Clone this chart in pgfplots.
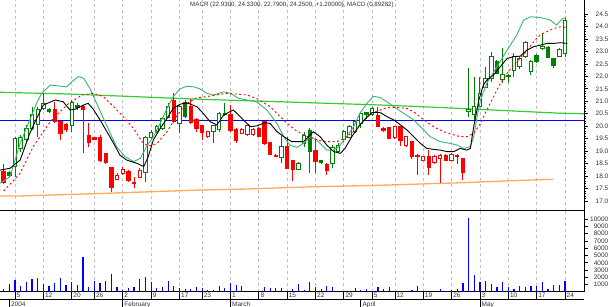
\documentclass[border=0pt]{standalone}
\usepackage{pgfplots}
\usepackage{pgfplotstable}
\pgfplotsset{compat=1.18}
\usepackage{fontspec}
\setmainfont{Liberation Sans}
\definecolor{cg}{RGB}{0,128,0}
\definecolor{cr}{RGB}{255,0,0}
\definecolor{tealc}{RGB}{60,179,113}
\definecolor{lgc}{RGB}{50,205,50}
\definecolor{orc}{RGB}{255,170,90}
\definecolor{gridc}{RGB}{192,192,192}
\definecolor{txt}{RGB}{50,50,50}

% green hollow candles: i open high low close
\pgfplotstableread{
i o h l c
0 18.38 19.58 17.97 19.49
1 19.10 19.65 18.98 19.55
2 19.45 20.05 19.31 19.91
3 19.91 20.78 19.85 20.45
4 20.05 20.78 19.58 20.68
5 20.71 21.32 20.65 20.92
10 20.01 21.05 19.78 20.94
23 18.13 19.61 17.77 19.55
24 19.54 19.85 19.45 19.74
25 19.78 20.05 19.71 19.98
26 19.91 20.38 19.85 20.31
27 20.35 20.92 20.31 20.78
29 20.11 20.85 19.74 20.78
35 19.80 20.05 19.34 20.01
36 19.87 20.58 19.78 20.51
47 18.75 19.61 18.51 19.20
50 18.27 18.58 18.24 18.51
51 19.31 19.78 19.15 19.61
56 18.51 19.24 18.31 19.15
57 18.98 19.31 18.94 19.24
58 19.45 19.85 19.38 19.78
59 19.55 20.05 19.51 19.98
60 19.78 20.25 19.71 20.18
61 20.11 20.58 19.91 20.51
63 20.48 20.75 20.42 20.71
80 20.58 22.32 20.38 20.67
81 20.45 21.98 20.25 20.78
82 20.78 21.96 20.75 21.32
83 21.56 22.39 21.52 21.92
84 21.92 22.99 21.78 22.81
86 21.89 23.12 21.72 22.09
88 22.25 22.92 21.99 22.79
89 22.39 22.80 22.30 22.72
90 22.81 23.40 22.75 23.35
91 22.19 22.65 22.05 22.61
93 23.12 23.72 23.05 23.21
96 22.81 23.12 22.78 23.08
97 22.93 24.33 22.79 24.25
}\GH
% green filled candles
\pgfplotstableread{
i o h l c
-1 18.15 18.20 17.95 18.04
6 20.68 20.71 20.54 20.60
11 20.85 20.94 20.65 20.74
30 20.94 21.05 20.31 20.38
37 20.51 20.92 20.41 20.45
52 19.82 19.91 18.11 18.98
54 18.62 18.66 18.50 18.56
62 20.54 20.58 20.30 20.47
85 22.59 22.65 22.08 22.12
87 22.04 22.10 21.72 21.99
92 22.85 22.90 22.55 22.59
94 23.15 23.20 22.72 22.76
95 22.72 22.75 22.32 22.45
}\GF
% red filled candles
\pgfplotstableread{
i o h l c
-2 18.17 18.48 17.68 17.73
7 20.68 20.98 20.14 20.18
8 20.17 20.22 19.45 19.69
9 20.05 20.11 19.78 19.85
12 20.78 20.85 18.91 20.65
13 19.61 20.11 19.18 19.34
14 19.55 19.58 19.45 19.47
15 19.54 19.65 18.58 18.62
16 18.91 18.94 18.48 18.54
17 18.34 18.38 17.37 17.55
20 18.17 18.24 17.77 17.81
21 17.75 17.97 17.51 17.71
28 21.05 21.32 20.11 20.18
31 20.78 21.08 20.09 20.14
32 20.27 20.31 19.78 19.91
33 20.01 20.05 19.45 19.74
38 20.45 20.85 19.78 19.82
39 19.85 19.91 19.31 19.42
43 19.91 19.98 19.55 19.58
44 20.18 20.22 19.24 19.31
45 19.34 19.38 18.84 18.88
46 18.84 18.88 18.75 18.78
48 19.20 19.55 18.27 18.31
49 18.62 18.64 17.81 18.27
53 19.02 19.45 18.13 18.58
55 18.48 18.54 18.04 18.22
64 20.41 20.78 19.95 19.98
65 19.91 19.95 19.78 19.82
66 19.94 19.98 19.48 19.51
68 19.98 20.00 19.22 19.42
70 19.38 19.42 18.67 18.78
71 18.84 18.90 18.05 18.78
73 18.80 19.04 18.04 18.33
76 18.84 18.88 18.60 18.64
78 18.84 18.88 18.50 18.78
79 18.70 18.74 17.84 18.16
}\RF
% red hollow candles
\pgfplotstableread{
i o h l c
18 17.88 18.11 17.84 18.04
19 18.11 18.35 18.04 18.28
22 17.95 18.31 17.91 18.24
34 19.58 19.82 19.54 19.78
40 19.71 19.91 19.69 19.87
41 19.65 20.05 19.61 20.01
42 19.65 19.91 19.61 19.85
67 19.55 20.02 19.50 19.98
69 19.22 19.62 19.18 19.58
72 18.64 18.82 18.60 18.78
74 18.54 18.84 18.50 18.80
75 18.71 18.88 17.73 18.84
77 18.64 18.92 18.60 18.88
}\RH
% volume
\pgfplotstableread{
i v
-2 410
-1 1100
0 1640
1 820
2 1370
3 1780
4 1920
5 1100
6 820
7 1230
8 1920
9 960
10 1370
11 960
12 4800
13 690
14 1510
15 1230
16 1510
17 2470
18 690
19 270
20 550
21 690
22 1780
23 2060
24 1370
25 550
26 690
27 1510
28 820
29 550
30 410
31 410
32 690
33 550
34 270
35 270
36 820
37 550
38 1230
39 960
40 820
41 0
42 140
43 0
44 690
45 550
46 550
47 550
48 0
49 410
50 1100
51 270
52 1370
53 690
54 410
55 820
56 690
57 0
58 140
59 140
60 550
61 270
62 410
63 140
64 690
65 410
66 690
67 140
68 0
69 0
70 270
71 820
72 0
73 0
74 0
75 410
76 140
77 270
78 410
79 1230
80 10140
81 2330
82 1370
83 1510
84 1100
85 690
86 1370
87 690
88 410
89 820
90 690
91 820
92 820
93 1370
94 410
95 960
96 960
97 1510
}\VOL

\pgfplotsset{
  base/.style={scale only axis, width=584pt, xmin=-2.65, xmax=100.35},
  wk/.style={xtick={0,5,10,14,19,24,29,33,38,43,48,53,58,63,67,72,77,82,87,92,97}},
  lab/.style={font=\fontsize{6.5}{7}\selectfont, text=txt},
  wick/.style={draw=none, mark=none, error bars/.cd, y dir=plus, y explicit, error mark=none,
     error bar style={line width=1pt, draw=#1, solid}},
  body/.style={draw=none, mark=none, error bars/.cd, y dir=plus, y explicit, error mark=none,
     error bar style={line width=4.4pt, draw=#1, solid}},
  inner/.style={draw=none, mark=none, error bars/.cd, y dir=plus, y explicit, error mark=none,
     error bar style={line width=2.4pt, draw=white, solid}},
}

\begin{document}
\begin{tikzpicture}
\path[use as bounding box] (0pt,0pt) rectangle (610pt,307pt);

% ---------------- price panel
\begin{axis}[base, wk, at={(0pt,96pt)}, anchor=south west, height=211pt,
  ymin=16.598, ymax=25.062,
  axis x line*=bottom, axis y line*=right, axis line style={-, line width=1pt, black},
  xticklabels={}, xmajorgrids, x tick style={draw=none},
  major grid style={gridc, dash pattern=on 3pt off 3pt, line width=0.8pt},
  ytick={17,17.5,18,18.5,19,19.5,20,20.5,21,21.5,22,22.5,23,23.5,24,24.5},
  yticklabels={17.0,17.5,18.0,18.5,19.0,19.5,20.0,20.5,21.0,21.5,22.0,22.5,23.0,23.5,24.0,24.5},
  minor y tick num=4, tick align=outside, major tick length=4pt, minor tick length=2pt,
  y tick style={black, line width=0.6pt},
  yticklabel pos=right,
  yticklabel style={lab, anchor=east, xshift=20.5pt, inner sep=0pt},
  title={MACR (22.9300, 24.3300, 22.7900, 24.2500, +1.20000), MACD (0.89282)},
  title style={at={(0.5,1)}, anchor=north, yshift=-7.5pt, inner sep=0pt,
     font=\fontsize{6.2}{7}\selectfont, text=txt},
]
% horizontal reference lines
\addplot[blue, line width=1.3pt] coordinates {(-2.65,20.24) (100.35,20.24)};
\addplot[lgc, line width=1.2pt] coordinates {(-2.65,21.36) (9.7,21.29) (32.6,21.08) (46.7,20.98) (64.4,20.85) (75,20.75) (84.3,20.65) (96.1,20.52) (100.35,20.50)};
\addplot[orc, line width=1.3pt] coordinates {(-2.65,17.20) (0.9,17.20) (15,17.30) (32.6,17.44) (40.9,17.48) (52.6,17.57) (64.4,17.63) (78.5,17.73) (87.3,17.81) (94.9,17.87)};

% wicks
\addplot[wick=cg] table[x=i, y=l, y error expr=\thisrow{h}-\thisrow{l}] {\GH};
\addplot[wick=cg] table[x=i, y=l, y error expr=\thisrow{h}-\thisrow{l}] {\GF};
\addplot[wick=cr] table[x=i, y=l, y error expr=\thisrow{h}-\thisrow{l}] {\RF};
\addplot[wick=cr] table[x=i, y=l, y error expr=\thisrow{h}-\thisrow{l}] {\RH};
% bodies
\addplot[body=cg] table[x=i, y expr={min(\thisrow{o},\thisrow{c})-0.02}, y error expr={abs(\thisrow{c}-\thisrow{o})+0.04}] {\GH};
\addplot[body=cg] table[x=i, y expr={min(\thisrow{o},\thisrow{c})-0.02}, y error expr={abs(\thisrow{c}-\thisrow{o})+0.04}] {\GF};
\addplot[body=cr] table[x=i, y expr={min(\thisrow{o},\thisrow{c})-0.02}, y error expr={abs(\thisrow{c}-\thisrow{o})+0.04}] {\RF};
\addplot[body=cr] table[x=i, y expr={min(\thisrow{o},\thisrow{c})-0.02}, y error expr={abs(\thisrow{c}-\thisrow{o})+0.04}] {\RH};
\addplot[inner] table[x=i, y expr={min(\thisrow{o},\thisrow{c})+0.02}, y error expr={max(abs(\thisrow{c}-\thisrow{o})-0.04,0)}] {\GH};
\addplot[inner] table[x=i, y expr={min(\thisrow{o},\thisrow{c})+0.02}, y error expr={max(abs(\thisrow{c}-\thisrow{o})-0.04,0)}] {\RH};

% teal band line
\addplot[tealc, line width=0.9pt] coordinates {
(-2.65,17.71) (-0.9,17.97) (0.9,19.31) (2.6,20.25) (3.8,20.92) (4.7,21.32) (6.2,21.65) (7.9,21.61)
(9.1,21.58) (10.0,21.78) (11.2,21.99) (12.1,21.92) (13.2,21.52) (14.4,20.92) (15.6,20.31) (16.8,19.71)
(17.9,19.18) (19.4,18.78) (20.9,18.58) (22.1,18.71) (23.2,19.18) (24.4,19.58) (25.6,20.11) (26.8,20.71)
(27.9,21.18) (29.1,21.50) (30.3,21.60) (31.5,21.58) (32.6,21.50) (33.8,21.32) (35.0,21.25) (36.8,21.38)
(38.0,21.32) (39.4,21.12) (40.9,21.05) (42.6,20.98) (44.4,20.65) (46.2,20.11) (47.4,19.58) (48.5,19.24)
(49.7,19.15) (50.9,19.31) (52.1,19.58) (53.2,19.45) (55.0,19.04) (56.2,19.04) (57.1,19.18) (58.5,19.58)
(59.7,19.98) (60.9,20.55) (62.1,20.92) (63.2,21.20) (64.4,21.15) (65.6,20.98) (66.8,20.78) (68.6,20.51)
(70.3,20.25) (72.1,19.85) (73.2,19.58) (75.0,19.38) (76.8,19.31) (78.0,19.24) (79.1,19.11) (80.3,19.18)
(80.9,19.58) (81.5,20.38) (82.1,21.05) (83.2,21.72) (85.0,22.39) (86.8,23.05) (88.5,23.66) (89.7,24.26)
(90.9,24.39) (92.6,24.36) (94.4,24.26) (95.5,24.06) (96.5,24.30) (97,24.35)};
% red dashed average
\addplot[cr, line width=0.9pt, dash pattern=on 2pt off 2.5pt] coordinates {
(-2,17.40) (0.9,18.11) (3.2,19.18) (6.2,20.18) (9.1,20.85) (11.8,21.25) (13.8,21.32) (15.6,21.18)
(17.4,20.78) (19.1,20.38) (20.9,19.91) (22.4,19.38) (23.5,19.20) (25,19.30) (26.8,19.78) (28.5,20.40)
(30,20.85) (31.8,21.12) (34.4,21.21) (37.4,21.32) (41.0,21.25) (42.9,21.08) (45.0,20.78) (48.0,20.11)
(49.4,19.85) (51.5,19.58) (54.4,19.38) (56.8,19.38) (58.5,19.58) (59.7,19.78) (61,20.10) (62.6,20.51)
(64.4,20.65) (65.6,20.75) (67.4,20.75) (69.1,20.71) (70.3,20.58) (72.1,20.25) (73.8,19.98) (75.6,19.78)
(77.4,19.65) (78.5,19.58) (79.7,19.58) (80.9,19.71) (82.1,20.11) (83.2,20.65) (84.4,21.18) (85.6,21.72)
(86.8,22.12) (87.9,22.45) (89.1,22.72) (90.3,23.05) (91.5,23.39) (92.6,23.66) (93.8,23.79) (95.0,23.92)
(96.2,23.99) (97.4,23.95)};
% black average
\addplot[black, line width=0.9pt] coordinates {
(-2.65,18.24) (-0.9,18.31) (0.9,18.64) (2.6,19.71) (3.8,20.31) (5.0,20.85) (7.1,21.05) (8.5,20.98)
(9.7,20.65) (10.6,20.68) (12.1,20.85) (12.9,20.92) (13.8,20.68) (15.0,20.25) (16.2,19.78) (17.4,19.31)
(18.5,18.84) (19.7,18.64) (21.5,18.51) (22.7,18.38) (23.5,18.78) (24.4,19.45) (25.6,19.91) (26.8,20.31)
(27.9,20.72) (29.1,20.88) (30.3,20.94) (32.1,20.78) (33.2,20.51) (34.4,20.18) (35.6,20.05) (36.8,20.45)
(38.5,20.65) (40.3,20.25) (41.5,19.98) (42.6,20.01) (44.1,20.14) (45.0,20.11) (46.2,19.78) (47.4,19.58)
(48.8,19.38) (50.9,19.38) (51.8,19.58) (52.6,19.78) (53.8,19.58) (55.0,19.24) (56.2,18.98) (57.4,18.91)
(58.2,19.11) (59.4,19.58) (60.6,19.98) (61.8,20.30) (63.0,20.55) (64.4,20.55) (65.6,20.38) (66.8,20.25)
(68.0,20.05) (69.1,19.85) (70.3,19.58) (71.5,19.31) (72.6,19.11) (73.8,19.07) (75.0,19.04) (76.2,18.98)
(77.4,18.98) (78.5,19.11) (79.7,19.04) (80.3,19.11) (80.9,19.98) (81.8,21.05) (82.6,21.65) (83.2,21.85)
(84.4,22.05) (85.6,22.39) (86.8,22.72) (87.9,22.79) (89.1,22.81) (90.3,23.05) (91.5,23.19) (92.6,23.25)
(93.8,23.32) (95.0,23.32) (96.2,23.35) (97.4,23.32)};
\end{axis}

% ---------------- volume panel
\begin{axis}[base, wk, at={(0pt,15pt)}, anchor=south west, height=81pt,
  ymin=0, ymax=11096,
  axis x line*=bottom, axis y line*=right, axis line style={-, line width=1pt, black},
  xticklabels={}, xmajorgrids, x tick style={draw=none},
  major grid style={gridc, dash pattern=on 3pt off 3pt, line width=0.8pt},
  ytick={1000,2000,3000,4000,5000,6000,7000,8000,9000,10000},
  yticklabels={1000,2000,3000,4000,5000,6000,7000,8000,9000,10000},
  scaled y ticks=false,
  tick align=outside, major tick length=4pt,
  y tick style={black, line width=0.6pt},
  yticklabel pos=right,
  yticklabel style={lab, anchor=east, xshift=20.5pt, inner sep=0pt},
]
\addplot[ycomb, blue, line width=1.2pt, mark=none] table[x=i, y=v] {\VOL};
\end{axis}

% ---------------- day row
\begin{axis}[base, wk, at={(0pt,7.3pt)}, anchor=south west, height=7.7pt,
  ymin=0, ymax=1, ytick=\empty,
  axis x line*=bottom, axis y line=none, axis line style={-, line width=1pt, black},
  xticklabels={5,12,20,26,2,9,17,23,1,8,15,22,29,5,12,19,26,3,10,17,24},
  tick align=inside, major tick length=7.7pt, x tick style={black, line width=0.8pt},
  xticklabel style={lab, anchor=south west, inner sep=0pt, xshift=1.5pt, yshift=1.5pt},
]
\end{axis}

% ---------------- month row
\begin{axis}[base, at={(0pt,0pt)}, anchor=south west, height=7.3pt,
  ymin=0, ymax=1, ytick=\empty,
  axis x line*=top, axis y line=none, axis line style={-, line width=1pt, black},
  xtick={-1,19,38,61,82}, xticklabels={2004,February,March,April,May},
  tick align=inside, major tick length=7.3pt, x tick style={black, line width=0.8pt},
  xticklabel pos=upper,
  xticklabel style={lab, anchor=north west, inner sep=0pt, xshift=1.5pt, yshift=-2pt},
]
\end{axis}
\end{tikzpicture}
\end{document}
